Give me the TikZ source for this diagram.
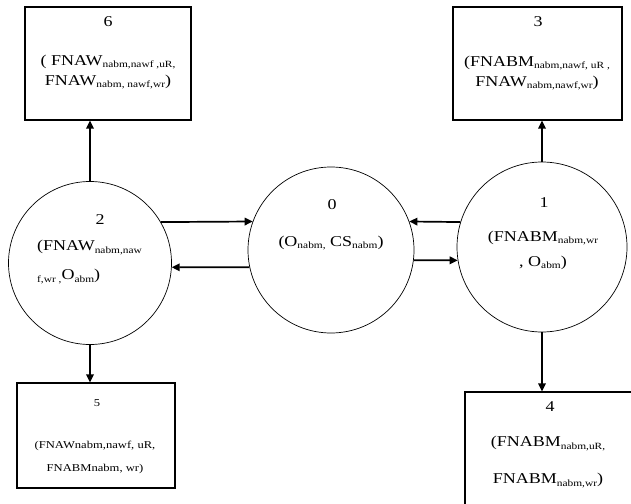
\documentclass[tikz,border=0pt]{standalone}
\usepackage{fontspec}
\setmainfont{Liberation Serif}[FakeStretch=1.2]
\usetikzlibrary{arrows.meta}

\newcommand{\lo}[1]{\raisebox{-2.5pt}{\fontsize{9.5}{9.5}\selectfont #1}}

\tikzset{
  box/.style={draw, line width=1.1pt, inner sep=0pt},
  state/.style={draw, circle, line width=0.7pt, inner sep=0pt},
  txt/.style={font=\fontsize{15}{20}\selectfont, align=center, inner sep=0pt},
  link/.style={line width=1.7pt, -{Triangle[length=8pt,width=7.5pt]}}
}

\begin{document}
\begin{tikzpicture}[x=1pt,y=-1pt]
        \useasboundingbox (0,0) rectangle (631,503);
        \clip (0,0) rectangle (631,503);

        % boxes
        \node[box, minimum width=166pt, minimum height=113pt] (b6) at (108,63.5) {};
        \node[box, minimum width=169pt, minimum height=113pt] (b3) at (537.5,63.5) {};
        \node[box, minimum width=158pt, minimum height=105pt] (b5) at (96,435.5) {};
        \node[box, minimum width=175pt, minimum height=128pt] (b4) at (552.5,456) {};

        % states
        \node[state, minimum size=163pt] (c2) at (90,263) {};
        \node[state, minimum size=166pt] (c0) at (331,250) {};
        \node[state, minimum size=170pt] (c1) at (542,247) {};

        % labels
        \node[txt] (t6) at (108,22) {6};
        \node[txt] (f6) at (108,72) {( FNAW\lo{nabm,nawf ,uR,}\\ FNAW\lo{nabm, nawf,wr})};
        \node[txt] (t3) at (538,22) {3};
        \node[txt] (f3) at (537,73) {(FNABM\lo{nabm,nawf, uR ,}\\ FNAW\lo{nabm,nawf,wr})};
        \node[txt] (t2) at (100,220) {2};
        \node[txt, font=\fontsize{15}{29}\selectfont, align=left, anchor=west] (f2) at (37,262) {(FNAW\lo{nabm,naw}\\ \lo{f,wr ,}O\lo{abm})};
        \node[txt] (t0) at (332,205) {0};
        \node[txt] (f0) at (331,243) {(O\lo{nabm,} CS\lo{nabm})};
        \node[txt] (t1) at (544,203) {1};
        \node[txt, font=\fontsize{15}{25}\selectfont] (f1) at (543,250) {(FNABM\lo{nabm,wr}\\ , O\lo{abm})};
        \node[txt, font=\fontsize{10.5}{23}\selectfont] (t5) at (97,403) {5};
        \node[txt, font=\fontsize{10.5}{23}\selectfont] (f5) at (95,457) {(FNAWnabm,nawf, uR,\\ FNABMnabm, wr)};
        \node[txt] (t4) at (550,407) {4};
        \node[txt, font=\fontsize{15}{37}\selectfont] (f4) at (548,462) {(FNABM\lo{nabm,uR,}\\ FNABM\lo{nabm,wr})};

        % connectors
        \draw[link] (c2.north) -- (c2.north |- b6.south);
        \draw[link] (c1.north) -- (c1.north |- b3.south);
        \draw[link] (c2.south) -- (c2.south |- b5.north);
        \draw[link] (c1.south) -- (c1.south |- b4.north);
        \draw[link] (c2.30) -- (c0.160);
        \draw[link] (c0.192.5) -- (c2.-3.5);
        \draw[link] (c1.163) -- (c0.20);
        \draw[link] (c0.-7) -- (c1.189);
    \end{tikzpicture}
\end{document}
